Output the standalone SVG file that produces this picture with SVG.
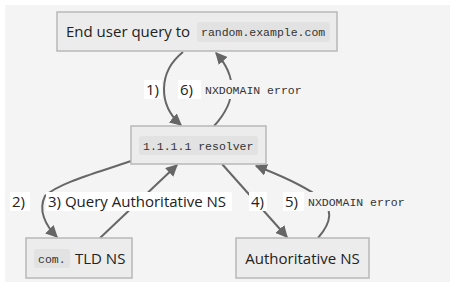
<svg xmlns="http://www.w3.org/2000/svg" width="455" height="287" viewBox="0 0 455 287">
  <defs>
    <marker id="arrow" viewBox="0 0 10 10" refX="9" refY="5" markerWidth="6" markerHeight="6" orient="auto-start-reverse">
      <path d="M0,0 L10,5 L0,10 z" fill="#666"/>
    </marker>
    <style>
      .node rect.box { fill: #ececec; stroke: #b8b8b8; stroke-width: 1.5; }
      .code-bg { fill: #e2e2e2; }
      .lbl-code-bg { fill: #f4f4f4; }
      .lbl-bg { fill: #ffffff; }
      .txt { font-family: "Open Sans", "Liberation Sans", sans-serif; font-size: 15px; fill: #222; }
      .mono { font-family: "Liberation Mono", "DejaVu Sans Mono", monospace; font-size: 11.5px; fill: #333; }
      .edge { fill: none; stroke: #666; stroke-width: 2; marker-end: url(#arrow); }
    </style>
  </defs>

  <rect x="5" y="5" width="445" height="277" fill="#f4f4f4"/>

  <g id="connectors">
    <!-- 1) query down to resolver -->
    <path class="edge" d="M183,52 C158,72 158,105 181,125"/>
    <!-- 6) NXDOMAIN back up to user -->
    <path class="edge" d="M214,126 C238,100 236,75 216,53"/>
    <!-- 2) resolver to TLD NS -->
    <path class="edge" d="M131,161 C100,172 60,182 45,196 C38,210 45,225 57,237"/>
    <!-- 3) TLD NS back to resolver -->
    <path class="edge" d="M100,238 L177,165"/>
    <!-- 4) resolver to authoritative -->
    <path class="edge" d="M222,164 L287,237"/>
    <!-- 5) NXDOMAIN back to resolver -->
    <path class="edge" d="M318,238 C332,222 334,208 318,196 C300,184 280,175 256,166"/>
  </g>

  <g id="edge-labels">
    <rect class="lbl-bg" x="144" y="80" width="18" height="19"/>
    <text class="txt" x="146" y="95">1)</text>
    <rect class="lbl-bg" x="178" y="80" width="24" height="19"/>
    <text class="txt" x="180" y="95">6)</text>
    <rect class="lbl-code-bg" x="201" y="80" width="104" height="19"/>
    <text class="mono" x="205" y="94">NXDOMAIN error</text>

    <rect class="lbl-bg" x="10" y="192" width="20" height="19"/>
    <text class="txt" x="12" y="207">2)</text>
    <rect class="lbl-bg" x="46" y="192" width="186" height="19"/>
    <text class="txt" x="48" y="207">3) Query Authoritative NS</text>
    <rect class="lbl-bg" x="249" y="192" width="18" height="19"/>
    <text class="txt" x="251" y="207">4)</text>
    <rect class="lbl-bg" x="283" y="192" width="22" height="19"/>
    <text class="txt" x="285" y="207">5)</text>
    <rect class="lbl-code-bg" x="304" y="192" width="106" height="19"/>
    <text class="mono" x="308" y="206">NXDOMAIN error</text>
  </g>

  <g id="user" class="node">
    <rect class="box" x="57" y="12" width="280" height="39"/>
    <text class="txt" x="66" y="37">End user query to</text>
    <rect class="code-bg" x="197" y="22" width="133" height="20" rx="3"/>
    <text class="mono" x="201" y="36">random.example.com</text>
  </g>

  <g id="resolver" class="node">
    <rect class="box" x="131" y="126" width="135" height="38"/>
    <rect class="code-bg" x="139" y="136" width="119" height="19" rx="3"/>
    <text class="mono" x="143" y="150">1.1.1.1 resolver</text>
  </g>

  <g id="tld" class="node">
    <rect class="box" x="26" y="238" width="106" height="40"/>
    <rect class="code-bg" x="34" y="249" width="36" height="19" rx="3"/>
    <text class="mono" x="38" y="263">com.</text>
    <text class="txt" x="75" y="264">TLD NS</text>
  </g>

  <g id="authoritative" class="node">
    <rect class="box" x="236" y="238" width="133" height="40"/>
    <text class="txt" x="302.5" y="264" text-anchor="middle">Authoritative NS</text>
  </g>
</svg>
